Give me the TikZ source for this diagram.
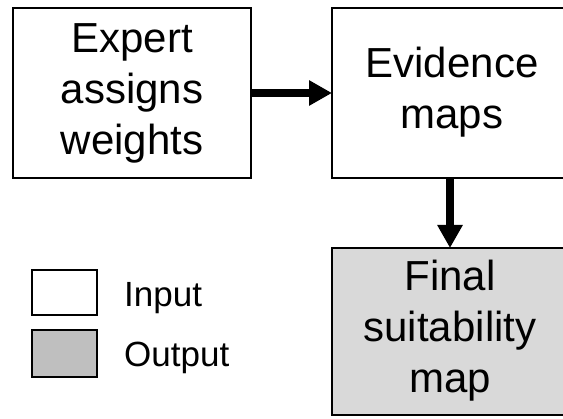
\documentclass[tikz,border=0pt]{standalone}
\usepackage{fontspec}
\setmainfont{Liberation Sans}
\usetikzlibrary{arrows.meta}
\definecolor{outfill}{HTML}{D9D9D9}
\definecolor{legfill}{HTML}{BFBFBF}
% stacked, centred lines of a box label, lowered a little inside the box
\newcommand{\boxlines}[1]{\raisebox{-4pt}{\begin{tabular}{@{}c@{}}#1\end{tabular}}}
\tikzset{
  procbox/.style={draw=black, line width=2.4pt, rectangle, inner sep=0pt, outer sep=0pt,
    font=\fontsize{42}{51}\selectfont},
  legbox/.style={draw=black, line width=2.4pt, rectangle, inner sep=0pt, outer sep=0pt,
    minimum width=65pt},
  leglabel/.style={anchor=base west, inner sep=0pt, font=\fontsize{35}{40}\selectfont},
  flow/.style={line width=7.5pt, -{Triangle[length=23pt,width=24pt]}},
}
\begin{document}
\begin{tikzpicture}[x=1pt,y=-1pt]
\clip (0,0) rectangle (563,419);
\fill[white] (0,0) rectangle (563,419);
% process boxes
\node[procbox, minimum width=238pt, minimum height=170pt] (expert) at (132,93)
  {\boxlines{Expert\\assigns\\weights}};
\node[procbox, minimum width=240pt, minimum height=170pt] (evid) at (452,93)
  {\boxlines{Evidence\\maps}};
\node[procbox, fill=outfill, minimum width=236pt, minimum height=167pt] (final) at (450,331.5)
  {\boxlines{Final\\suitability\\map}};
% connectors
\draw[flow] (expert.east) -- (evid.west);
\draw[flow] (evid.south -| final.north) -- (final.north);
% legend
\node[legbox, minimum height=45pt] (legin) at (64.5,292.5) {};
\node[legbox, fill=legfill, minimum height=47pt] (legout) at (64.5,353.5) {};
\node[leglabel] (lin) at (124,307) {Input};
\node[leglabel] (lout) at (124,367) {Output};
\end{tikzpicture}
\end{document}
